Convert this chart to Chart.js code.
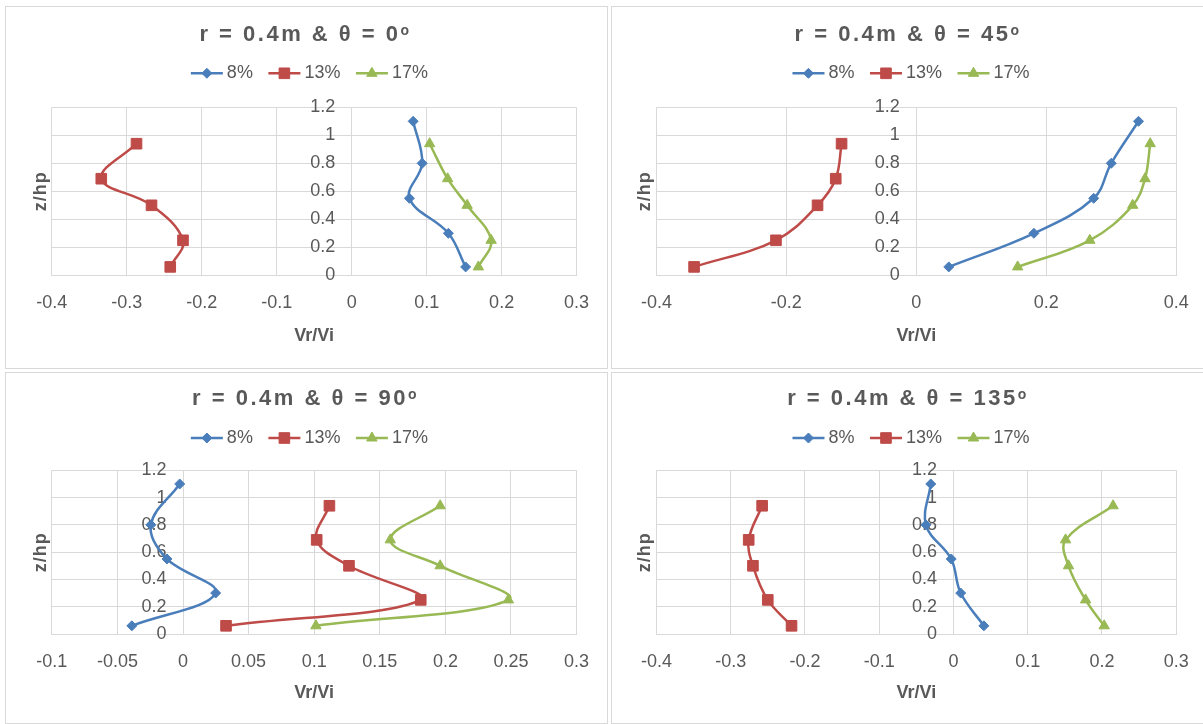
<!DOCTYPE html>
<html>
<head>
<meta charset="utf-8">
<title>Vr/Vi profiles, r = 0.4m</title>
<script src="https://cdn.jsdelivr.net/npm/chart.js@4.4.1/dist/chart.umd.min.js"></script>
<style>
  html, body { margin: 0; padding: 0; background: #fff; width: 1203px; height: 724px; overflow: hidden; }
  .panel { position: absolute; border: 1px solid #d9d9d9; box-sizing: border-box; background: #fff; overflow: hidden; }
  .panel canvas { position: absolute; left: 0; top: 0; }
</style>
</head>
<body>
<div class="panel" style="left:5px;top:6px;width:603px;height:363px"><canvas id="c0" width="601" height="361"></canvas></div>
<div class="panel" style="left:611px;top:6px;width:603px;height:363px"><canvas id="c45" width="601" height="361"></canvas></div>
<div class="panel" style="left:5px;top:372px;width:603px;height:352px"><canvas id="c90" width="601" height="350"></canvas></div>
<div class="panel" style="left:611px;top:372px;width:603px;height:352px"><canvas id="c135" width="601" height="350"></canvas></div>
<script>
// ---- data -------------------------------------------------------------
const seriesNames = ['8%', '13%', '17%'];

// z/hp levels of the measuring points
const z8  = [1.1, 0.8, 0.55, 0.3, 0.06];
const z13 = [0.94, 0.69, 0.5, 0.25, 0.06];
const z17 = [0.94, 0.69, 0.5, 0.25, 0.06];

// Vr/Vi at theta = 0
const vr0_8  = [0.082, 0.094, 0.077, 0.129, 0.152];
const vr0_13 = [-0.287, -0.334, -0.267, -0.225, -0.242];
const vr0_17 = [0.104, 0.128, 0.154, 0.186, 0.169];

// Vr/Vi at theta = 45
const vr45_8  = [0.342, 0.300, 0.273, 0.181, 0.050];
const vr45_13 = [-0.115, -0.124, -0.152, -0.216, -0.342];
const vr45_17 = [0.360, 0.352, 0.333, 0.267, 0.156];

// Vr/Vi at theta = 90
const vr90_8  = [-0.0025, -0.0245, -0.0122, 0.0249, -0.039];
const vr90_13 = [0.1116, 0.1019, 0.1265, 0.1812, 0.0328];
const vr90_17 = [0.196, 0.158, 0.196, 0.248, 0.1013];

// Vr/Vi at theta = 135
const vr135_8  = [-0.0305, -0.037, -0.003, 0.0098, 0.041];
const vr135_13 = [-0.2576, -0.2757, -0.270, -0.250, -0.218];
const vr135_17 = [0.215, 0.151, 0.155, 0.178, 0.203];

// tick labels
const zTicks      = [0, 0.2, 0.4, 0.6, 0.8, 1, 1.2];
const vrTicks0    = [-0.4, -0.3, -0.2, -0.1, 0, 0.1, 0.2, 0.3];
const vrTicks45   = [-0.4, -0.2, 0, 0.2, 0.4];
const vrTicks90   = [-0.1, -0.05, 0, 0.05, 0.1, 0.15, 0.2, 0.25, 0.3];
const vrTicks135  = [-0.4, -0.3, -0.2, -0.1, 0, 0.1, 0.2, 0.3];

// ---- styling ----------------------------------------------------------
const FONT = '"Liberation Sans", Arial, Helvetica, sans-serif';
const TEXT = '#595959';
const GRID = '#d9d9d9';
const seriesColors = ['#4A7EBB', '#BE4B48', '#98B954'];
const pointStyles  = ['rectRot', 'rect', 'triangle'];
const pointRadii   = [5, 7.5, 6];

Chart.defaults.font.family = FONT;
Chart.defaults.color = TEXT;

// title, legend, vertical-axis title and z/hp tick labels beside the x = 0 axis
const panelDecor = {
  id: 'panelDecor',
  beforeDatasetsDraw(chart, args, o) {
    const { ctx, scales } = chart;
    const x0 = scales.x.getPixelForValue(0);
    ctx.save();
    ctx.font = '18px ' + FONT;
    ctx.fillStyle = TEXT;
    ctx.textAlign = 'right';
    ctx.textBaseline = 'middle';
    zTicks.forEach(v => ctx.fillText(String(v), x0 - o.yLabelGap, scales.y.getPixelForValue(v)));
    ctx.restore();
  },
  afterDraw(chart, args, o) {
    const { ctx, chartArea } = chart;

    // chart title with superscript degree mark
    ctx.save();
    ctx.fillStyle = TEXT;
    ctx.textAlign = 'left';
    ctx.textBaseline = 'alphabetic';
    ctx.letterSpacing = '2.5px';
    const main = 'r = 0.4m & \u03b8 = ' + o.angle;
    ctx.font = 'bold 22px ' + FONT;
    const wMain = ctx.measureText(main).width;
    ctx.font = 'bold 14px ' + FONT;
    const wSup = ctx.measureText('o').width;
    const tx = o.titleX - (wMain + wSup) / 2;
    ctx.font = 'bold 22px ' + FONT;
    ctx.fillText(main, tx, o.titleY);
    ctx.font = 'bold 14px ' + FONT;
    ctx.fillText('o', tx + wMain, o.titleY - 6.5);
    ctx.restore();

    // legend: line + marker + label
    ctx.save();
    ctx.font = '18px ' + FONT;
    ctx.textAlign = 'left';
    ctx.textBaseline = 'middle';
    const lineLen = 32, gapText = 4, gapItem = 15.5;
    const items = chart.data.datasets.map(ds => ({ ds, w: ctx.measureText(ds.label).width }));
    const total = items.reduce((s, it) => s + lineLen + gapText + it.w, 0) + gapItem * (items.length - 1);
    let lx = o.legendX - total / 2;
    const ly = o.legendY;
    items.forEach(({ ds, w }) => {
      ctx.strokeStyle = ds.borderColor;
      ctx.fillStyle = ds.backgroundColor;
      ctx.lineWidth = 2.5;
      ctx.beginPath();
      ctx.moveTo(lx, ly);
      ctx.lineTo(lx + lineLen, ly);
      ctx.stroke();
      ctx.lineWidth = 1;
      Chart.helpers.drawPoint(ctx, { pointStyle: ds.pointStyle, rotation: 0, radius: ds.pointRadius, borderWidth: 1 }, lx + lineLen / 2, ly);
      ctx.fillStyle = TEXT;
      ctx.fillText(ds.label, lx + lineLen + gapText, ly);
      lx += lineLen + gapText + w + gapItem;
    });
    ctx.restore();

    // vertical axis title
    ctx.save();
    ctx.translate(chartArea.left - o.yTitleGap, (chartArea.top + chartArea.bottom) / 2);
    ctx.rotate(-Math.PI / 2);
    ctx.font = 'bold 18px ' + FONT;
    ctx.letterSpacing = '1px';
    ctx.fillStyle = TEXT;
    ctx.textAlign = 'center';
    ctx.textBaseline = 'middle';
    ctx.fillText('z/hp', 0, 0);
    ctx.restore();
  }
};

function makeChart(id, cfg) {
  const datasets = cfg.series.map((s, i) => ({
    label: seriesNames[i],
    data: s.x.map((v, k) => ({ x: v, y: s.z[k] })),
    showLine: true,
    borderColor: seriesColors[i],
    backgroundColor: seriesColors[i],
    borderWidth: 2.5,
    tension: 0.38,
    pointStyle: pointStyles[i],
    pointRadius: pointRadii[i],
    pointBorderWidth: 1,
    pointBorderColor: seriesColors[i],
    pointBackgroundColor: seriesColors[i],
    clip: false
  }));
  return new Chart(document.getElementById(id), {
    type: 'scatter',
    data: { datasets },
    options: {
      responsive: false,
      animation: false,
      events: [],
      layout: { padding: { left: cfg.area.left, right: cfg.area.right, top: cfg.area.top, bottom: 0 } },
      plugins: {
        legend: { display: false },
        tooltip: { enabled: false },
        panelDecor: {
          angle: cfg.angle,
          titleX: cfg.titleX, titleY: cfg.titleY,
          legendX: cfg.legendX, legendY: cfg.legendY,
          yTitleGap: 11, yLabelGap: 16.5
        }
      },
      scales: {
        x: {
          type: 'linear',
          position: 'bottom',
          min: cfg.xTicks[0],
          max: cfg.xTicks[cfg.xTicks.length - 1],
          afterBuildTicks: s => { s.ticks = cfg.xTicks.map(v => ({ value: v })); },
          afterFit: s => { s.height = cfg.area.axisH; },
          grid: { color: GRID, lineWidth: 1, drawTicks: false },
          border: { color: GRID, width: 1 },
          ticks: { color: TEXT, font: { size: 18 }, padding: 17, maxRotation: 0, autoSkip: false,
                   callback: v => String(v) },
          title: { display: true, text: 'Vr/Vi', color: TEXT, font: { size: 18, weight: 'bold' },
                   padding: { top: 0, bottom: cfg.xTitlePad } }
        },
        y: {
          type: 'linear',
          position: { x: 0 },
          min: 0,
          max: 1.2,
          afterBuildTicks: s => { s.ticks = zTicks.map(v => ({ value: v })); },
          grid: { color: GRID, lineWidth: 1, drawTicks: false },
          border: { color: GRID, width: 1 },
          ticks: { display: false }
        }
      }
    },
    plugins: [panelDecor]
  });
}

makeChart('c0', {
  angle: '0',
  series: [{ x: vr0_8, z: z8 }, { x: vr0_13, z: z13 }, { x: vr0_17, z: z17 }],
  xTicks: vrTicks0,
  area: { left: 45.8, right: 30.4, top: 100.3, axisH: 92.7 },
  xTitlePad: 21.2,
  titleX: 299.5, titleY: 34,
  legendX: 303.4, legendY: 66.3
});

makeChart('c45', {
  angle: '45',
  series: [{ x: vr45_8, z: z8 }, { x: vr45_13, z: z13 }, { x: vr45_17, z: z17 }],
  xTicks: vrTicks45,
  area: { left: 44.4, right: 36.8, top: 100.3, axisH: 92.7 },
  xTitlePad: 21.2,
  titleX: 296, titleY: 34,
  legendX: 299, legendY: 66.3
});

makeChart('c90', {
  angle: '90',
  series: [{ x: vr90_8, z: z8 }, { x: vr90_13, z: z13 }, { x: vr90_17, z: z17 }],
  xTicks: vrTicks90,
  area: { left: 45.8, right: 30.4, top: 97.3, axisH: 89 },
  xTitlePad: 19.2,
  titleX: 299.5, titleY: 32.3,
  legendX: 303.4, legendY: 65
});

makeChart('c135', {
  angle: '135',
  series: [{ x: vr135_8, z: z8 }, { x: vr135_13, z: z13 }, { x: vr135_17, z: z17 }],
  xTicks: vrTicks135,
  area: { left: 44.4, right: 36.8, top: 97.3, axisH: 89 },
  xTitlePad: 19.2,
  titleX: 296, titleY: 32.3,
  legendX: 299, legendY: 65
});
</script>
</body>
</html>
